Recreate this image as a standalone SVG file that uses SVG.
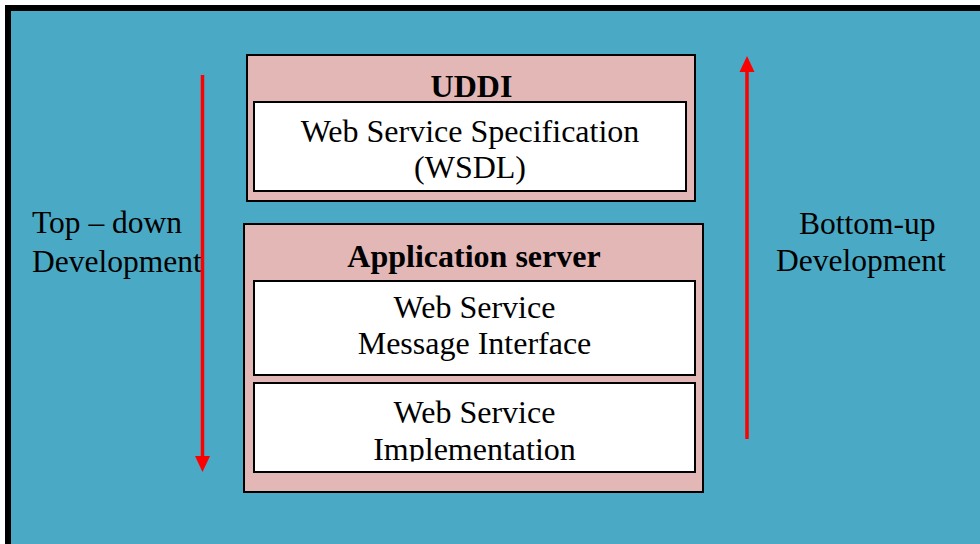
<svg xmlns="http://www.w3.org/2000/svg" width="980" height="544" viewBox="0 0 980 544">
  <style>
    .frame { fill: #4AAAC5; stroke: #000; stroke-width: 6; }
    .outer { fill: #E4B7B7; stroke: #000; stroke-width: 2; }
    .inner { fill: #FFFFFF; stroke: #000; stroke-width: 2; }
    .t { font-family: "Liberation Serif", "Times New Roman", serif; font-size: 32px; fill: #000; }
    .s { font-size: 31.5px; }
    .b { font-weight: bold; }
    .c { text-anchor: middle; }
    .arrow { stroke: #FF0000; stroke-width: 3.5; fill: none; }
    .head { fill: #FF0000; }
  </style>
  <defs>
    <clipPath id="clipImpl">
      <rect x="254" y="383" width="441" height="78.5"/>
    </clipPath>
  </defs>

  <rect class="frame" x="8" y="8" width="990" height="540"/>

  <g id="uddi">
    <rect class="outer" x="247" y="55" width="448" height="146"/>
    <text class="t b c" x="471.5" y="97">UDDI</text>
    <g id="wsdl">
      <rect class="inner" x="254" y="102" width="432" height="89"/>
      <text class="t c" x="470" y="142">Web Service Specification</text>
      <text class="t c" x="470" y="178">(WSDL)</text>
    </g>
  </g>

  <g id="appserver">
    <rect class="outer" x="244" y="224" width="459" height="268"/>
    <text class="t b c" x="474" y="267">Application server</text>
    <g id="msginterface">
      <rect class="inner" x="254" y="281" width="441" height="94"/>
      <text class="t c" x="474.5" y="318">Web Service</text>
      <text class="t c" x="474.5" y="354">Message Interface</text>
    </g>
    <g id="implementation">
      <rect class="inner" x="254" y="383" width="441" height="89"/>
      <text class="t c" x="474.5" y="423">Web Service</text>
      <text class="t c" x="474.5" y="460" clip-path="url(#clipImpl)">Implementation</text>
    </g>
  </g>

  <g id="topdown">
    <text class="t s" x="32" y="233">Top – down</text>
    <text class="t s" x="32" y="272">Development</text>
  </g>

  <g id="bottomup">
    <text class="t s" x="799" y="234">Bottom-up</text>
    <text class="t s" x="776" y="271">Development</text>
  </g>

  <g id="connectors">
    <line class="arrow" x1="202.5" y1="75" x2="202.5" y2="458"/>
    <polygon class="head" points="195,456 210,456 202.5,472"/>
    <line class="arrow" x1="747" y1="439" x2="747" y2="70"/>
    <polygon class="head" points="739.5,72 754.5,72 747,56"/>
  </g>
</svg>
